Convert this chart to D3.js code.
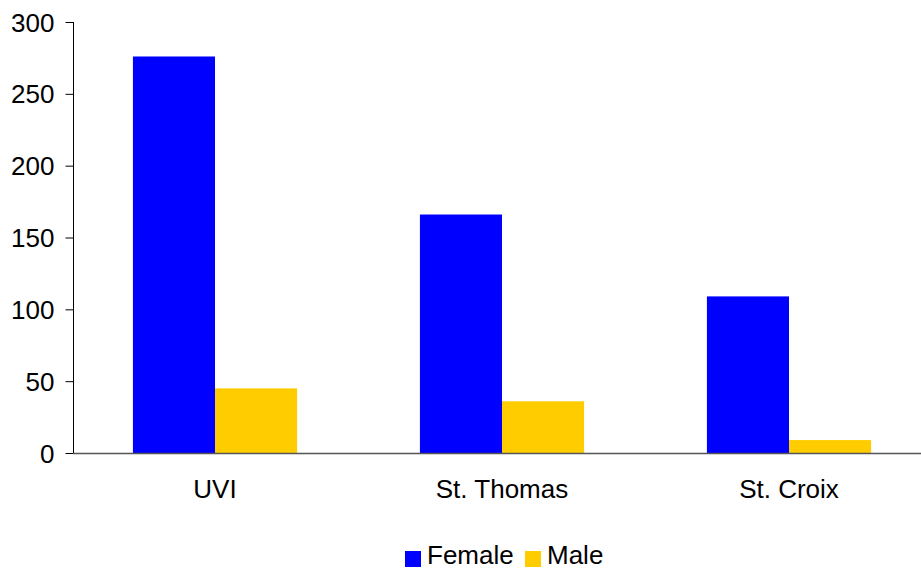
<!DOCTYPE html>
<html>
<head>
<meta charset="utf-8">
<script src="https://cdn.jsdelivr.net/npm/d3@7"></script>
<style>
  html, body { margin: 0; padding: 0; background: #fff; }
  svg { display: block; }
  text { font-family: "Liberation Sans", Arial, sans-serif; fill: #000; }
</style>
</head>
<body>
<svg id="chart" width="921" height="569"></svg>
<script>
const categories = ["UVI", "St. Thomas", "St. Croix"];
const seriesNames = ["Female", "Male"];
const female = [276, 166, 109];
const male = [45, 36, 9];
const yTicks = [0, 50, 100, 150, 200, 250, 300];
const colors = ["#0000FF", "#FFCC00"];

const seriesValues = [female, male];
const rows = categories.map((c, i) => ({ cat: c, vals: seriesNames.map((s, j) => ({ s, v: seriesValues[j][i] })) }));

const svg = d3.select("#chart");
const x0 = d3.scaleBand().domain(categories).range([71.5, 932.5]).paddingInner(0.428).paddingOuter(0.214);
const x1 = d3.scaleBand().domain(seriesNames).range([0, x0.bandwidth()]);
const y = d3.scaleLinear().domain([0, 300]).range([453, 22]);
const color = d3.scaleOrdinal().domain(seriesNames).range(colors);

// bars
const g = svg.append("g");
g.selectAll("g.cat").data(rows).join("g")
  .attr("transform", d => `translate(${x0(d.cat)},0)`)
  .selectAll("rect").data(d => d.vals).join("rect")
  .attr("x", d => x1(d.s))
  .attr("width", x1.bandwidth())
  .attr("y", d => y(d.v))
  .attr("height", d => y(0) - y(d.v))
  .attr("fill", d => color(d.s));

// y axis
const yAxis = d3.axisLeft(y).tickValues(yTicks).tickSize(8).tickPadding(11);
const ya = svg.append("g").attr("transform", "translate(73.5,0)").call(yAxis);
ya.select(".domain").attr("stroke", "#000").attr("d", `M0,${y(300)}V${y(0)}`);
ya.selectAll(".tick line").attr("stroke", "#000");
ya.selectAll(".tick text").style("font-size", "26px").attr("dy", "0.35em");

// x axis line
svg.append("line").attr("x1", 73).attr("x2", 921).attr("y1", 453.5).attr("y2", 453.5)
  .attr("stroke", "#555").attr("stroke-width", 1.6);

// category labels
svg.append("g").selectAll("text").data(categories).join("text")
  .attr("x", d => x0(d) + x0.bandwidth() / 2)
  .attr("y", 498)
  .attr("text-anchor", "middle")
  .style("font-size", "26px")
  .text(d => d);

// legend
const legendItems = [{ name: "Female", x: 405 }, { name: "Male", x: 525 }];
const lg = svg.append("g");
legendItems.forEach((it, i) => {
  lg.append("rect").attr("x", it.x).attr("y", 551).attr("width", 16).attr("height", 16).attr("fill", color(it.name));
  lg.append("text").attr("x", it.x + 22).attr("y", 563.5).style("font-size", "26px").text(seriesNames[i]);
});
</script>
</body>
</html>
